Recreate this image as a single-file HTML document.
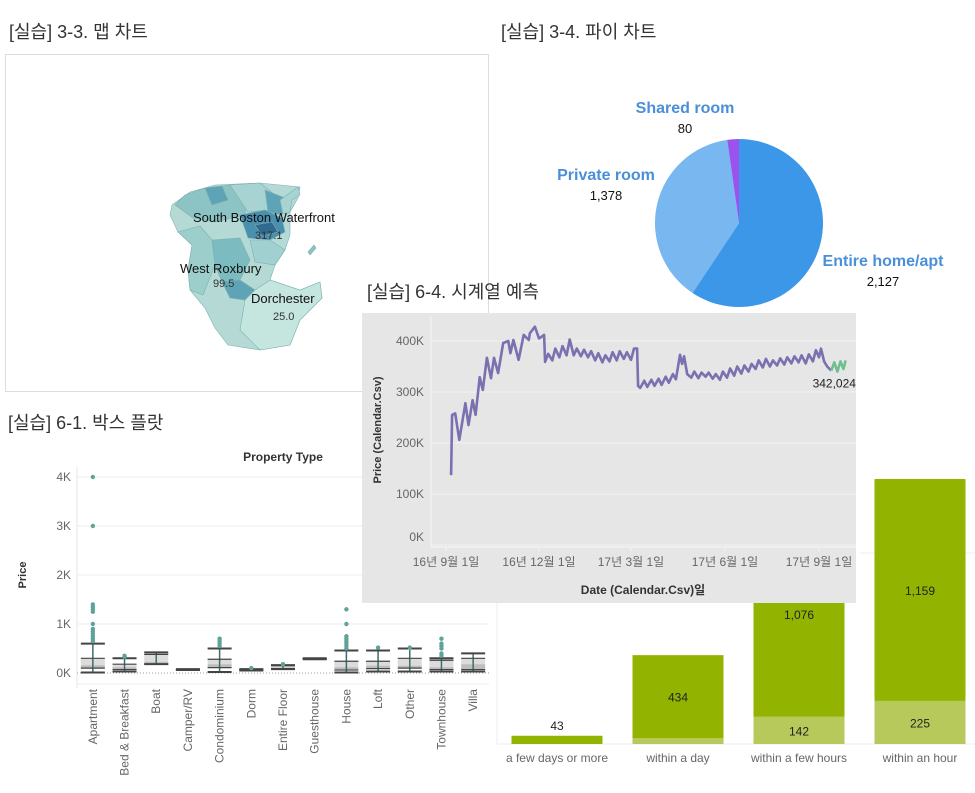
<!DOCTYPE html>
<html><head><meta charset="utf-8">
<style>
html,body{margin:0;padding:0;background:#fff;}
svg{display:block;font-family:"Liberation Sans","Noto Sans CJK KR",sans-serif;}
</style></head>
<body>
<svg id="root" width="975" height="793" viewBox="0 0 975 793" xmlns="http://www.w3.org/2000/svg">
  <!-- titles -->
  <text x="9" y="38" font-size="18" fill="#333">[실습] 3-3. 맵 차트</text>
  <text x="501" y="38" font-size="18" fill="#333">[실습] 3-4. 파이 차트</text>
  <text x="8" y="429" font-size="18" fill="#333">[실습] 6-1. 박스 플랏</text>

  <!-- map panel -->
  <g>
    <rect x="5.5" y="54.5" width="483" height="337" fill="#fff" stroke="#ddd"/>
    <g stroke="#7fb0b0" stroke-width="0.6">
      <polygon points="172,205 190,192 215,185 260,183 300,187 298,198 290,212 290,235 285,250 275,265 270,280 300,290 320,282 322,298 300,320 290,345 260,350 228,345 215,328 205,308 190,290 188,270 192,245 178,232 170,215" fill="#b5dad5"/>
      <polygon points="175,205 185,195 205,188 230,185 248,193 245,215 215,222 193,218" fill="#8cc3c5"/>
      <polygon points="205,188 222,186 228,200 212,205" fill="#5fa4b6"/>
      <polygon points="230,185 260,183 275,195 268,210 248,212" fill="#a8d3d3"/>
      <polygon points="265,190 285,198 282,215 268,212" fill="#5fa4b6"/>
      <polygon points="280,200 298,187 300,195 292,200 290,212 283,214" fill="#a8d3d3"/>
      <polygon points="240,215 265,210 282,218 285,232 270,240 248,238" fill="#4a8fae"/>
      <polygon points="255,225 272,222 278,232 262,236" fill="#2f6a8f"/>
      <polygon points="178,232 200,226 212,240 215,265 203,295 190,290 188,270 192,245" fill="#9ccfcc"/>
      <polygon points="212,240 240,238 250,260 240,280 222,282 215,265" fill="#7cbbc0"/>
      <polygon points="250,240 270,240 285,250 275,265 255,262" fill="#a0d0cf"/>
      <polygon points="222,282 240,280 255,290 245,300 230,298" fill="#5fa4b6"/>
      <polygon points="255,290 270,280 300,290 320,282 322,298 300,320 290,345 260,350 240,330 245,300" fill="#c5e5df"/>
      <polygon points="308,252 314,245 316,248 310,255" fill="#8cc3c5"/>
    </g>
    <text x="193" y="222" font-size="13" fill="#111">South Boston Waterfront</text>
    <text x="255" y="239" font-size="11" fill="#333">317.1</text>
    <text x="180" y="273" font-size="13" fill="#111">West Roxbury</text>
    <text x="213" y="287" font-size="11" fill="#333">99.5</text>
    <text x="251" y="303" font-size="13" fill="#111">Dorchester</text>
    <text x="273" y="320" font-size="11" fill="#333">25.0</text>
  </g>
  <text x="367" y="298" font-size="18" fill="#333">[실습] 6-4. 시계열 예측</text>

  <g id="box"></g>
  <g id="bars"></g>
  <g id="pie"></g>
  <g id="ts"></g>
</svg>
<script>
// ---------- Box plot data ----------
const boxCategories = ["Apartment","Bed & Breakfast","Boat","Camper/RV","Condominium","Dorm","Entire Floor","Guesthouse","House","Loft","Other","Townhouse","Villa"];
const boxLowWhisker = [10,30,180,60,20,50,80,280,10,30,30,30,30];
const boxQ1 = [100,70,180,65,110,55,90,285,60,90,100,70,70];
const boxMedian = [160,120,230,70,180,65,110,290,120,150,150,120,180];
const boxQ3 = [300,180,380,75,280,70,150,295,240,240,300,260,300];
const boxHighWhisker = [600,300,420,80,500,80,160,300,460,460,500,300,400];
const boxOutliers = [[4000,3000,1400,1350,1300,1250,1000,900,850,800,750,700,650],[350,330],[],[],[700,650,600,550],[100],[180],[],[1300,1000,750,700,650,600,550,500],[520],[520],[700,600,550,500,400,350],[]];
const boxTicks = [0,1000,2000,3000,4000];
const boxTickLabels = ["0K","1K","2K","3K","4K"];

// ---------- Bar data ----------
const barCategories = ["a few days or more","within a day","within a few hours","within an hour"];
const barLight = [0,30,142,225];
const barDark = [43,434,1076,1159];

// ---------- Pie data ----------
const pieLabels = ["Entire home/apt","Private room","Shared room"];
const pieValues = [2127,1378,80];
const pieValueLabels = ["2,127","1,378","80"];

// ---------- Time series data (day offset from 2016-09-01, price in K) ----------
const tsDays = [5,6,9,13,19,22,26,29,33,36,40,44,47,51,56,61,63,66,71,76,81,82,87,91,96,97,100,104,107,111,114,118,121,125,128,132,135,139,142,146,149,153,156,160,163,167,170,174,177,181,184,187,188,190,194,197,201,204,208,211,215,218,222,225,229,231,233,236,240,243,247,250,254,257,261,264,268,271,275,278,282,285,289,292,296,299,303,306,310,313,317,320,324,327,331,334,338,341,345,348,352,355,359,362,365,367,370,373,377];
const tsValues = [137,255,258,206,278,235,284,255,329,304,367,327,367,337,396,400,376,402,363,412,402,415,428,405,412,359,375,362,385,368,390,372,403,372,385,370,383,368,380,362,376,358,372,360,378,362,380,365,378,363,385,385,312,308,322,310,324,312,326,314,330,318,335,325,373,355,370,335,328,340,327,338,330,338,326,335,324,340,328,346,332,350,336,352,340,355,345,362,348,365,350,362,352,366,354,368,356,370,358,372,356,374,360,382,368,385,360,350,342];
const fcDays = [377,380,383,386,389,391];
const fcValues = [342,358,340,360,345,362];
const tsTickDays = [0,91,181,273,365];
const tsTickLabels = ["16년 9월 1일","16년 12월 1일","17년 3월 1일","17년 6월 1일","17년 9월 1일"];
const tsYTicks = [0,100,200,300,400];
const tsYLabels = ["0K","100K","200K","300K","400K"];

const NS = "http://www.w3.org/2000/svg";
function mk(parent, tag, attrs, text){
  const e = document.createElementNS(NS, tag);
  for (const k in attrs) e.setAttribute(k, attrs[k]);
  if (text !== undefined) e.textContent = text;
  parent.appendChild(e);
  return e;
}

// ===== Box plot =====
(function(){
  const g = document.getElementById('box');
  const x0 = 77, x1 = 489, band = (x1-x0)/boxCategories.length;
  const bx = i => x0 + band*(i+0.5);
  const by = v => 673 - v*0.049;
  let t = mk(g,'text',{x:283,y:461,'font-size':12,'font-weight':'bold',fill:'#333','text-anchor':'middle'},'Property Type');
  
  
  t = mk(g,'text',{x:26,y:575,'font-size':11,'font-weight':'bold',fill:'#333','text-anchor':'middle',transform:'rotate(-90 26 575)'},'Price');
  
  
  let ax = mk(g,'line',{x1:x0,y1:467,x2:x0,y2:688,stroke:'#e6e6e6'});
  
  
  boxTicks.forEach((v,i)=>{
    const y = by(v);
    const l = mk(g,'line',{x1:x0,y1:y,x2:x1,y2:y,stroke: v===0?'#999':'#eee','stroke-dasharray': v===0?'1,2':'none'});
    
    
    const tx = mk(g,'text',{x:71,y:y+4,'font-size':12,fill:'#666','text-anchor':'end'},boxTickLabels[i]);
    
    
  });
  const bl = mk(g,'line',{x1:x0,y1:684,x2:x1,y2:684,stroke:'#eee'});
  
  
  boxCategories.forEach((c,i)=>{
    const cx = bx(i);
    const grp = mk(g,'g',{});
    
    
    mk(grp,'rect',{x:cx-12,y:by(boxQ3[i]),width:24,height:by(boxMedian[i])-by(boxQ3[i]),fill:'#dcdcdc'});
    mk(grp,'rect',{x:cx-12,y:by(boxMedian[i]),width:24,height:by(boxQ1[i])-by(boxMedian[i]),fill:'#bdbdbd'});
    mk(grp,'line',{x1:cx,y1:by(boxHighWhisker[i]),x2:cx,y2:by(boxLowWhisker[i]),stroke:'#3e6e6a','stroke-width':1.5});
    [boxLowWhisker[i],boxHighWhisker[i],boxQ1[i],boxQ3[i]].forEach((v,k)=>{
      mk(grp,'line',{x1:cx-12,y1:by(v),x2:cx+12,y2:by(v),stroke:'#444','stroke-width':k<2?2:1.2});
    });
    boxOutliers[i].forEach(v=>{
      const p = mk(grp,'circle',{cx:cx,cy:by(v),r:2.2,fill:'#5ea39a'});
      
      
    });
    const lab = mk(g,'text',{x:cx+4,y:689,'font-size':12,fill:'#666','text-anchor':'end',transform:`rotate(-90 ${cx+4} 689)`},c);
    
    
  });
})();

// ===== Bars =====
(function(){
  const g = document.getElementById('bars');
  const base = 744, k = 0.1915, w = 91;
  const cx = i => 557 + i*121;
  const gl = mk(g,'line',{x1:860,y1:553,x2:975,y2:553,stroke:'#eee'});
  
  
  const ax = mk(g,'line',{x1:497,y1:base,x2:975,y2:base,stroke:'#eee'});
  
  
  const vx = mk(g,'line',{x1:497,y1:600,x2:497,y2:base,stroke:'#eee'});
  
  
  barCategories.forEach((c,i)=>{
    const lh = barLight[i]*k, dh = barDark[i]*k;
    const r1 = mk(g,'rect',{x:cx(i)-w/2,y:base-lh,width:w,height:lh,fill:'#b8c95c'});
    
    
    const r2 = mk(g,'rect',{x:cx(i)-w/2,y:base-lh-dh,width:w,height:dh,fill:'#92b300'});
    
    
    const dy = dh > 20 ? base-lh-dh/2+5 : base-lh-dh-6;
    const t = mk(g,'text',{x:cx(i),y:dy,'font-size':12,fill:'#222','text-anchor':'middle'},barDark[i].toLocaleString('en-US'));
    
    
    if (lh > 18){
      const t2 = mk(g,'text',{x:cx(i),y:base-lh/2+5,'font-size':12,fill:'#222','text-anchor':'middle'},barLight[i].toLocaleString('en-US'));
      
      
    }
    const cl = mk(g,'text',{x:cx(i),y:762,'font-size':12,fill:'#666','text-anchor':'middle'},c);
    
    
  });
})();

// ===== Pie =====
(function(){
  const g = document.getElementById('pie');
  const cx = 739, cy = 223, r = 84;
  const colors = ['#3d97e9','#78b7f0','#9b52ef'];
  const total = pieValues.reduce((a,b)=>a+b,0);
  let a0 = -Math.PI/2;
  pieValues.forEach((v,i)=>{
    const a1 = a0 + v/total*2*Math.PI;
    const large = (a1-a0) > Math.PI ? 1 : 0;
    const d = `M${cx},${cy} L${cx+r*Math.cos(a0)},${cy+r*Math.sin(a0)} A${r},${r} 0 ${large} 1 ${cx+r*Math.cos(a1)},${cy+r*Math.sin(a1)} Z`;
    const p = mk(g,'path',{d:d,fill:colors[i]});
    
    
    a0 = a1;
  });
  const pos = [[883,266],[606,180],[685,113]];
  pieLabels.forEach((l,i)=>{
    const t = mk(g,'text',{x:pos[i][0],y:pos[i][1],'font-size':16,'font-weight':'bold',fill:'#4a8fd8','text-anchor':'middle'},l);
    
    
    const t2 = mk(g,'text',{x:pos[i][0],y:pos[i][1]+20,'font-size':13,fill:'#111','text-anchor':'middle'},pieValueLabels[i]);
    
    
  });
})();

// ===== Time series =====
(function(){
  const g = document.getElementById('ts');
  const xs = d => 446 + d*(819-446)/365;
  const ys = v => 545 - v*0.51;
  const bg = mk(g,'rect',{x:362,y:313,width:494,height:290,fill:'#e6e6e6'});
  
  
  tsYTicks.forEach((v,i)=>{
    const l = mk(g,'line',{x1:431,y1:ys(v),x2:856,y2:ys(v),stroke:'#f3f3f3'});
    
    
    const t = mk(g,'text',{x:424,y:ys(v)+4-(v===0?8:0),'font-size':12,fill:'#666','text-anchor':'end'},tsYLabels[i]);
    
    
  });
  const ya = mk(g,'line',{x1:431,y1:316,x2:431,y2:547,stroke:'#f5f5f5'});
  
  
  const xa = mk(g,'line',{x1:431,y1:547,x2:856,y2:547,stroke:'#f5f5f5'});
  
  
  tsTickDays.forEach((d,i)=>{
    mk(g,'line',{x1:xs(d),y1:547,x2:xs(d),y2:551,stroke:'#f5f5f5'});
    const t = mk(g,'text',{x:xs(d),y:566,'font-size':12,fill:'#666','text-anchor':'middle'},tsTickLabels[i]);
    
    
  });
  const xt = mk(g,'text',{x:643,y:594,'font-size':12,'font-weight':'bold',fill:'#333','text-anchor':'middle'},'Date (Calendar.Csv)일');
  
  
  const yt = mk(g,'text',{x:381,y:430,'font-size':11,'font-weight':'bold',fill:'#333','text-anchor':'middle',transform:'rotate(-90 381 430)'},'Price (Calendar.Csv)');
  
  
  const pts = tsDays.map((d,i)=>`${xs(d).toFixed(1)},${ys(tsValues[i]).toFixed(1)}`).join(' ');
  const line = mk(g,'polyline',{points:pts,fill:'none',stroke:'#7b70b0','stroke-width':2.6,'stroke-linejoin':'round'});
  
  
  const fpts = fcDays.map((d,i)=>`${xs(d).toFixed(1)},${ys(fcValues[i]).toFixed(1)}`).join(' ');
  const fl = mk(g,'polyline',{points:fpts,fill:'none',stroke:'#6fbf8f','stroke-width':2.6,'stroke-linejoin':'round'});
  
  
  const last = tsValues[tsValues.length-1];
  const lt = mk(g,'text',{x:xs(tsDays[tsDays.length-1])+3,y:ys(last)+17,'font-size':12,fill:'#222','text-anchor':'middle'},(last*1000+24).toLocaleString('en-US'));
  
  
})();
</script>
</body></html>
